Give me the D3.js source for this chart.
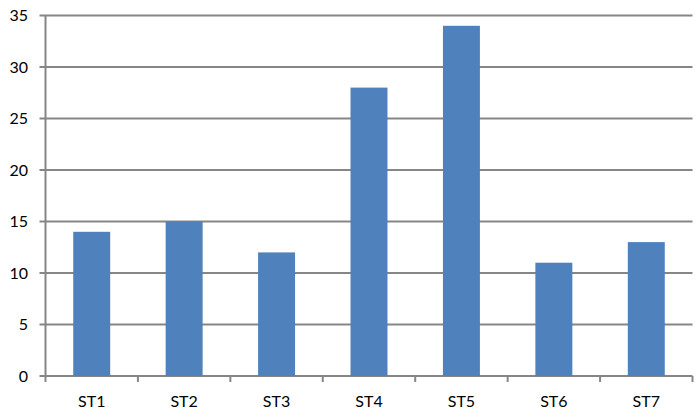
<!DOCTYPE html>
<html><head><meta charset="utf-8">
<script src="https://cdn.jsdelivr.net/npm/d3@7"></script>
<style>body{margin:0;background:#fff;}svg{display:block;font-family:Lato,"Open Sans",sans-serif;}</style>
</head><body>
<script>
const categories = ["ST1","ST2","ST3","ST4","ST5","ST6","ST7"];
const values = [14,15,12,28,34,11,13];
const yTicks = [0,5,10,15,20,25,30,35];

(function(){
const W = 699, H = 416;
const mLeft = 45.5, mRight = 692.5, mTop = 15.5, mBottom = 376;
const svg = d3.select("body").append("svg").attr("width", W).attr("height", H);

const x = d3.scaleBand().domain(categories).range([mLeft, mRight]).paddingInner(0.6).paddingOuter(0.3);
const y = d3.scaleLinear().domain([0,35]).range([mBottom, mTop]);
const grey = "#868686";

// gridlines
svg.append("g").selectAll("line").data(yTicks).join("line")
  .attr("x1", mLeft - 6).attr("x2", mRight)
  .attr("y1", d => y(d)).attr("y2", d => y(d))
  .attr("stroke", grey).attr("stroke-width", 2);

// bars
svg.append("g").selectAll("rect").data(values).join("rect")
  .attr("x", (d,i) => x(categories[i]))
  .attr("width", x.bandwidth())
  .attr("y", d => y(d))
  .attr("height", d => y(0) - y(d))
  .attr("fill", "#4F81BD");

// y axis line
svg.append("line").attr("x1", mLeft).attr("x2", mLeft).attr("y1", mTop).attr("y2", mBottom)
  .attr("stroke", grey).attr("stroke-width", 2);

// y labels
svg.append("g").selectAll("text").data(yTicks).join("text")
  .attr("x", 28).attr("y", d => y(d)).attr("dy", "0.35em")
  .attr("text-anchor", "end").attr("font-size", 16).attr("fill", "#000")
  .text(d => d);

// x tick marks at band edges
const edges = categories.map(c => x(c) - x.step()*x.paddingOuter()).concat([mRight]);
svg.append("g").selectAll("line").data(edges).join("line")
  .attr("x1", d => d).attr("x2", d => d).attr("y1", mBottom).attr("y2", mBottom + 6)
  .attr("stroke", grey).attr("stroke-width", 2);

// x labels
svg.append("g").selectAll("text").data(categories).join("text")
  .attr("x", d => x(d) + x.bandwidth()/2).attr("y", 401.5).attr("dy", "0.35em")
  .attr("text-anchor", "middle").attr("font-size", 16).attr("fill", "#000")
  .text(d => d);
})();
</script>
</body></html>
